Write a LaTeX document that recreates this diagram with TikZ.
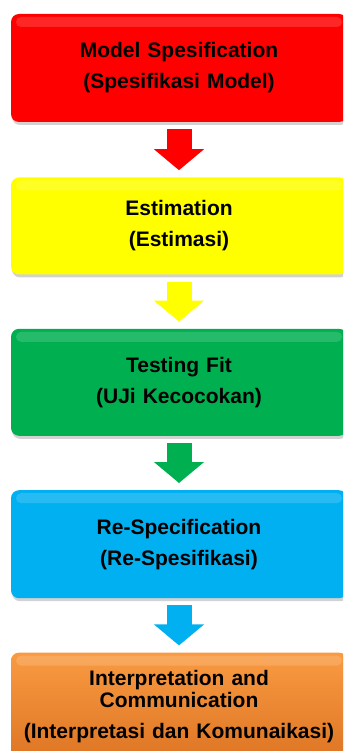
\documentclass[tikz,border=0pt]{standalone}
\usepackage{fontspec}
\setmainfont{Liberation Sans}
\usepackage{xcolor}
\usetikzlibrary{positioning, shadows, arrows.meta}
\definecolor{stepred}{HTML}{FF0000}
\definecolor{stepyellow}{HTML}{FFFF00}
\definecolor{stepgreen}{HTML}{00B050}
\definecolor{stepblue}{HTML}{00B0F0}
\definecolor{steporangetop}{HTML}{F99B42}
\definecolor{steporangebot}{HTML}{DE7524}
\begin{document}
\begin{tikzpicture}[x=1pt, y=1pt]
	\tikzstyle{stagebox}=[
	rectangle,
	rounded corners=8pt,
	minimum width=336pt,
	text width=330pt,
	align=center,
	inner sep=0pt,
	font=\fontsize{21}{31}\selectfont\bfseries,
	drop shadow={shadow xshift=1pt, shadow yshift=-3pt, opacity=0.35},
	path picture={
		\fill[white, opacity=0.15, rounded corners=5pt]
		([shift={(5pt,-3pt)}]path picture bounding box.north west) rectangle
		([shift={(-5pt,-13pt)}]path picture bounding box.north east);
	}
	]
	\tikzstyle{flowarrow}=[
	line width=25pt,
	-{Triangle[width=49pt, length=21pt]},
	shorten <=7pt,
	shorten >=7pt
	]
	\clip (0,0) rectangle (343,-751);
	\fill[white] (0,0) rectangle (343,-751);
	% stages
	\node[stagebox, fill=stepred, minimum height=108pt] (spec) at (179,-68)
	{Model Spesification\\(Spesifikasi Model)};
	\node[stagebox, fill=stepyellow, minimum height=97pt, below=55pt of spec] (estim)
	{Estimation\\(Estimasi)};
	\node[stagebox, fill=stepgreen, minimum height=107pt, below=54pt of estim] (fit)
	{Testing Fit\\(UJi Kecocokan)};
	\node[stagebox, fill=stepblue, minimum height=108pt, below=54pt of fit] (respec)
	{Re-Specification\\(Re-Spesifikasi)};
	\node[stagebox, top color=steporangetop, bottom color=steporangebot,
	minimum height=107pt, below=54pt of respec] (interp)
	{Interpretation and\\[-9pt]Communication\\(Interpretasi dan Komunaikasi)};
	% arrows
	\draw[flowarrow, stepred] (spec) -- (estim);
	\draw[flowarrow, stepyellow] (estim) -- (fit);
	\draw[flowarrow, stepgreen] (fit) -- (respec);
	\draw[flowarrow, stepblue] (respec) -- (interp);
\end{tikzpicture}
\end{document}
